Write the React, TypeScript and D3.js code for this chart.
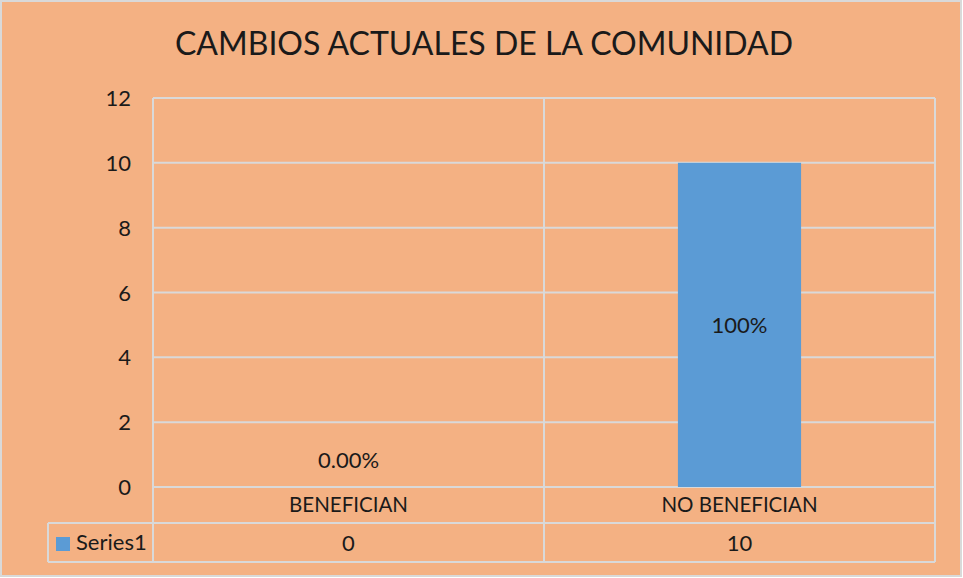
import React from 'react';
import * as d3 from 'd3';

const categories = ['BENEFICIAN', 'NO BENEFICIAN'];
const values = [0, 10];
const pctLabels = ['0.00%', '100%'];
const yTicks = [0, 2, 4, 6, 8, 10, 12];
const seriesName = 'Series1';
const title = 'CAMBIOS ACTUALES DE LA COMUNIDAD';

const W = 963;
const H = 578;
const bg = '#F4B183';
const grid = '#D9D9D9';
const barColor = '#5B9BD5';
const font = 'Lato, "Open Sans", sans-serif';
const ink = '#1a1a1a';

const App: React.FC = () => {
  const plot = { left: 153, right: 935, top: 98, bottom: 487 };
  const rowH = [36, 39];
  const tableLeft = 48;

  const x = d3.scaleBand<string>().domain(categories).range([plot.left, plot.right]).padding(0);
  const y = d3.scaleLinear().domain([0, 12]).range([plot.bottom, plot.top]);
  const barW = x.bandwidth() * 0.315;

  const row1 = plot.bottom + rowH[0];
  const row2 = row1 + rowH[1];

  return (
    <svg width={W} height={H} style={{ position: 'absolute', left: 0, top: 0 }} fontFamily={font}>
      <rect x={1} y={1} width={W - 3} height={H - 3} fill={bg} stroke={grid} strokeWidth={2} />
      <text x={484} y={55} textAnchor="middle" fontSize={32} fill={ink}>{title}</text>

      {/* grid */}
      {yTicks.map(t => (
        <g key={t}>
          <line x1={plot.left} x2={plot.right} y1={y(t)} y2={y(t)} stroke={grid} strokeWidth={2} />
          <text x={131} y={y(t) + 8} textAnchor="end" fontSize={22} fill={ink}>{t}</text>
        </g>
      ))}

      {/* table vertical lines */}
      {[plot.left, ...categories.map(c => (x(c) ?? 0) + x.bandwidth())].map((vx, i) => (
        <line key={i} x1={vx} x2={vx} y1={plot.top} y2={row2} stroke={grid} strokeWidth={2} />
      ))}
      <line x1={tableLeft} x2={plot.right} y1={row1} y2={row1} stroke={grid} strokeWidth={2} />
      <line x1={tableLeft} x2={plot.right} y1={row2} y2={row2} stroke={grid} strokeWidth={2} />
      <line x1={tableLeft} x2={tableLeft} y1={row1} y2={row2} stroke={grid} strokeWidth={2} />

      {/* bars */}
      {categories.map((c, i) => {
        const cx = (x(c) ?? 0) + x.bandwidth() / 2;
        const top = y(values[i]);
        const labelY = values[i] > 0 ? (top + y(0)) / 2 + 8 : y(0) - 19;
        return (
          <g key={c}>
            {values[i] > 0 && (
              <rect x={cx - barW / 2} y={top} width={barW} height={y(0) - top} fill={barColor} />
            )}
            <text x={cx} y={labelY} textAnchor="middle" fontSize={22} fill={ink}>{pctLabels[i]}</text>
            <text x={cx} y={plot.bottom + 25} textAnchor="middle" fontSize={20.5} fill={ink}>{c}</text>
            <text x={cx} y={row1 + 28} textAnchor="middle" fontSize={22} fill={ink}>{values[i]}</text>
          </g>
        );
      })}

      {/* legend key */}
      <rect x={56} y={537} width={14} height={14} fill={barColor} />
      <text x={76} y={550} fontSize={22} fill={ink}>{seriesName}</text>
    </svg>
  );
};

export default App;
